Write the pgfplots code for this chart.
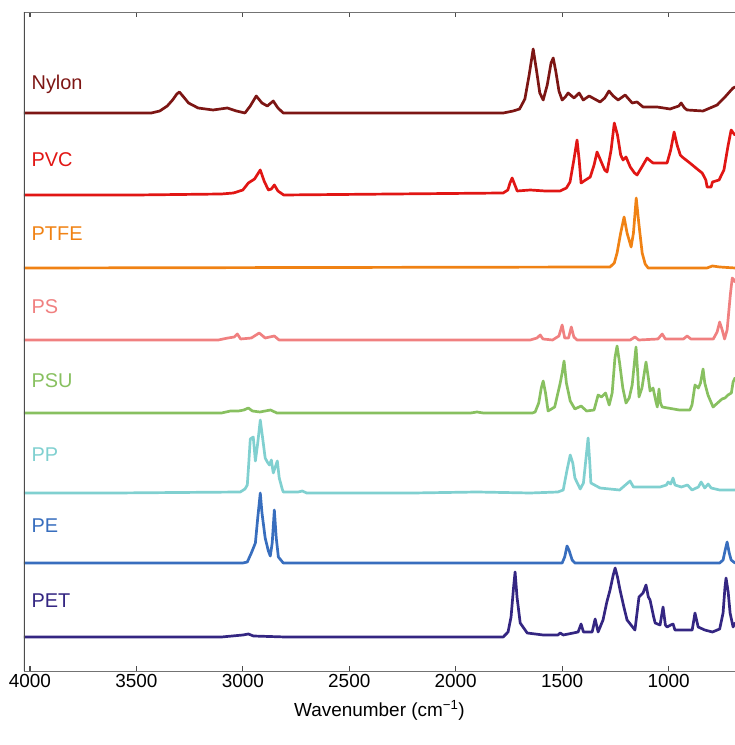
\documentclass[border=0pt]{standalone}
\usepackage{fontspec}
\setmainfont{Liberation Sans}
\usepackage{pgfplots}
\pgfplotsset{compat=1.18}

\definecolor{cnylon}{RGB}{125,22,20}
\definecolor{cpvc}{RGB}{225,22,20}
\definecolor{cptfe}{RGB}{240,130,20}
\definecolor{cps}{RGB}{240,128,128}
\definecolor{cpsu}{RGB}{136,192,96}
\definecolor{cpp}{RGB}{128,208,208}
\definecolor{cpe}{RGB}{56,110,190}
\definecolor{cpet}{RGB}{52,38,130}

\begin{document}
\begin{tikzpicture}
\begin{axis}[
  width=711bp, height=659bp, scale only axis,
  x dir=reverse, xmin=688, xmax=4028, ymin=0, ymax=659,
  axis line style={draw=none},
  xtick={1000,1500,2000,2500,3000,3500,4000},
  xtick pos=both, xticklabel pos=lower,
  ytick=\empty,
  tick align=inside, major tick length=0pt,
  scaled x ticks=false,
  /pgf/number format/assume math mode=true,
  /pgf/number format/1000 sep={},
  ticklabel style={font=\fontsize{19}{19}\selectfont},
  xlabel={Wavenumber (cm\textsuperscript{−1})},
  label style={font=\fontsize{19}{19}\selectfont},
  xlabel shift=6bp,
  clip=true,
  every axis plot/.append style={line width=2.7bp, line join=round, line cap=round, no markers},
]
% Nylon
\addplot[cnylon] table[y expr=\thisrowno{1}+558] {
w i
4028 0
3600 0
3430 0
3390 2
3355 7
3330 13
3310 19
3298 21
3282 17
3255 10
3210 5
3140 3
3073 5
3030 2
2990 0
2965 7
2937 17
2910 10
2885 7
2857 12
2835 5
2810 0
1777 0
1730 2
1700 4
1675 14
1655 38
1636 64
1620 42
1605 20
1589 13
1570 28
1552 50
1542 55
1530 42
1515 22
1500 13
1485 16
1472 20
1444 15
1420 20
1401 13
1373 17
1322 11
1300 15
1280 22
1260 17
1237 13
1204 18
1171 10
1148 11
1120 6
1054 6
993 4
952 7
941 10
925 5
913 3
838 2
772 8
735 16
710 22
697 25
688 26
};
% PVC
\addplot[cpvc] table[y expr=\thisrowno{1}+476] {
w i
4028 0
3500 0
3100 1
3044 2
3000 5
2974 12
2945 16
2918 25
2900 14
2880 5
2866 6
2852 10
2835 4
2808 0
1777 2
1755 5
1745 12
1735 17
1722 10
1711 4
1650 5
1580 4
1510 4
1480 7
1463 13
1445 35
1430 55
1420 35
1411 12
1390 15
1368 18
1350 30
1336 43
1320 35
1300 25
1289 23
1270 45
1255 72
1240 60
1225 40
1214 35
1200 38
1180 28
1160 22
1148 20
1120 30
1101 37
1085 34
1073 32
1040 32
1007 32
990 45
974 63
960 50
945 40
936 38
900 32
860 25
842 22
825 15
819 8
800 8
794 13
763 15
740 25
720 50
706 65
696 62
688 60
};
% PTFE
\addplot[cptfe] table[y expr=\thisrowno{1}+403] {
w i
4028 0
1275 1
1255 5
1242 15
1225 35
1209 51
1195 35
1176 21
1165 35
1152 70
1140 45
1124 15
1110 4
1096 0
820 0
794 2
760 1
688 0
};
% PS
\addplot[cps] table[y expr=\thisrowno{1}+331] {
w i
4028 0
3115 0
3070 2
3040 3
3026 6
3010 1
2960 2
2923 7
2895 2
2852 4
2830 0
1650 0
1618 2
1603 5
1590 1
1545 0
1515 4
1500 15
1488 2
1470 2
1457 13
1445 3
1430 0
1180 0
1158 3
1140 0
1050 1
1030 6
1015 1
930 1
913 4
895 1
790 1
772 8
760 18
748 10
737 1
725 10
710 45
701 62
692 60
688 58
};
% PSU
\addplot[cpsu] table[y expr=\thisrowno{1}+258] {
w i
4028 0
3100 0
3058 2
3020 2
2995 3
2974 5
2955 2
2920 1
2870 3
2840 0
1930 0
1900 1
1870 0
1640 0
1627 1
1610 10
1598 25
1589 32
1578 20
1566 2
1535 6
1509 30
1500 40
1491 52
1480 30
1462 12
1440 4
1411 7
1385 2
1350 3
1331 18
1315 16
1296 20
1279 8
1265 20
1252 55
1242 67
1230 50
1215 25
1200 10
1185 15
1171 28
1153 66
1145 40
1139 16
1125 25
1106 51
1095 35
1087 22
1073 25
1060 12
1053 6
1045 24
1038 10
1030 6
950 3
900 3
890 8
876 28
860 25
850 30
838 44
830 30
815 18
791 6
770 10
749 14
735 15
721 18
705 20
697 31
688 35
};
% PP
\addplot[cpp] table[y expr=\thisrowno{1}+178] {
w i
4028 0
3600 0
3012 1
2990 4
2979 8
2972 30
2965 54
2951 56
2941 32
2930 50
2918 73
2904 50
2895 35
2885 31
2875 28
2866 33
2857 20
2838 32
2829 15
2815 4
2810 1
2740 1
2721 2
2700 0
2200 0
1900 1
1650 0
1520 1
1495 3
1477 23
1462 38
1450 30
1440 15
1415 4
1400 10
1378 55
1370 30
1365 10
1322 5
1230 3
1181 12
1165 6
1101 6
1040 6
1010 8
1002 11
990 9
979 15
970 8
940 6
911 8
890 3
860 6
847 11
830 5
814 9
800 5
760 3
688 3
};
% PE
\addplot[cpe] table[y expr=\thisrowno{1}+108] {
w i
4028 0
3000 0
2979 1
2960 10
2941 20
2930 45
2918 70
2910 50
2895 25
2880 12
2871 7
2862 20
2852 53
2843 25
2833 6
2810 0
1500 0
1488 6
1477 17
1468 13
1453 3
1440 0
760 0
744 3
735 12
725 21
715 10
706 3
688 0
};
% PET
\addplot[cpet] table[y expr=\thisrowno{1}+34] {
w i
4028 0
3100 0
3000 2
2974 3
2950 1
2800 0
1777 0
1754 5
1740 20
1728 50
1721 65
1712 40
1697 14
1664 4
1589 2
1520 2
1509 4
1495 2
1425 5
1411 13
1400 5
1370 5
1359 5
1345 18
1331 5
1308 17
1290 35
1275 47
1260 62
1251 69
1240 60
1228 47
1210 30
1195 17
1158 7
1139 40
1120 44
1106 52
1095 40
1087 37
1070 20
1063 14
1040 12
1026 30
1015 12
1007 10
990 12
979 13
970 7
940 7
889 7
876 24
861 10
830 7
794 5
760 8
744 24
735 50
730 59
720 45
711 24
697 10
688 14
};
\begin{scope}[every node/.style={anchor=west, font=\fontsize{20}{20}\selectfont, inner sep=0pt}]
\node[text=cnylon] at (axis cs:3993,587) {Nylon};
\node[text=cpvc]   at (axis cs:3993,511) {PVC};
\node[text=cptfe]  at (axis cs:3993,437) {PTFE};
\node[text=cps]    at (axis cs:3993,364) {PS};
\node[text=cpsu]   at (axis cs:3993,290) {PSU};
\node[text=cpp]    at (axis cs:3993,216) {PP};
\node[text=cpe]    at (axis cs:3993,145) {PE};
\node[text=cpet]   at (axis cs:3993,70)  {PET};
\end{scope}
\pgfplotsinvokeforeach{1000,1500,2000,2500,3000,3500,4000}{
  \draw[black!70, line width=1.1bp] (axis cs:#1,0) -- ++(0pt,5bp);
  \draw[black!70, line width=1.1bp] (axis cs:#1,659) -- ++(0pt,-5bp);
}
\draw[black!55, line width=0.8bp] (axis description cs:1,1) -- (axis description cs:0,1);
\draw[black!55, line width=0.8bp] (axis description cs:0,0) -- (axis description cs:1,0);
\draw[black!70, line width=1.3bp] (axis description cs:0,1) -- (axis description cs:0,0);
\end{axis}
\pgfresetboundingbox
\path[use as bounding box] ([xshift=-24bp,yshift=-74bp]current axis.south west) rectangle ([yshift=12bp]current axis.north east);
\end{tikzpicture}
\end{document}
